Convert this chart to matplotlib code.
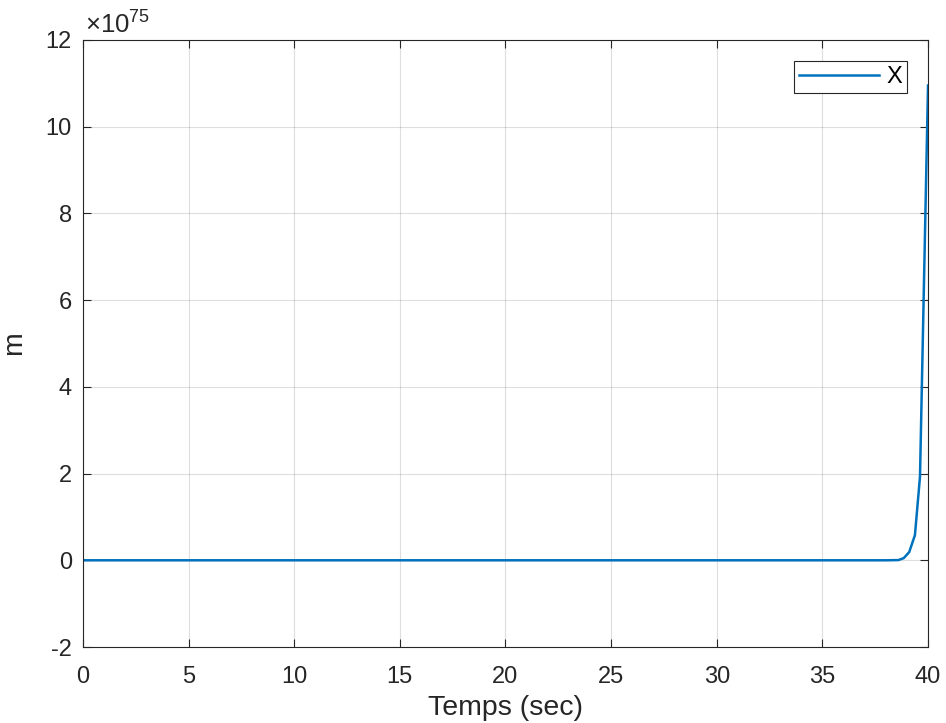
import matplotlib.pyplot as plt
from matplotlib.ticker import MultipleLocator, FuncFormatter
import numpy as np

# trajectoire x(t), diverge en fin de simulation
t = [0, 10, 20, 30, 38.0, 38.6, 38.85, 39.11, 39.38, 39.62, 40.0]
x = [0, 0, 0, 0, 0.0, 0.005, 0.05, 0.19, 0.58, 1.93, 10.95]
scale = 1e75
x = np.array(x) * scale

plt.rcParams['font.family'] = ['Liberation Sans', 'DejaVu Sans']
plt.rcParams['font.size'] = 17
plt.rcParams['axes.unicode_minus'] = False
plt.rcParams['mathtext.fontset'] = 'custom'
plt.rcParams['mathtext.rm'] = 'Liberation Sans'

fig = plt.figure(figsize=(9.46, 7.23), dpi=100)
ax = fig.add_axes([0.0877, 0.1051, 0.8933, 0.8396])

ax.plot(t, x, color='#0072BD', lw=1.8, label='X')

ax.set_xlim(0, 40)
ax.set_ylim(-2 * scale, 12 * scale)
ax.xaxis.set_major_locator(MultipleLocator(5))
ax.yaxis.set_major_locator(MultipleLocator(2 * scale))
ax.yaxis.set_major_formatter(FuncFormatter(lambda v, p: '%g' % round(v / scale)))
ax.text(0.002, 1.0115, '×10$^{\\mathregular{75}}$', transform=ax.transAxes,
        ha='left', va='baseline', color='#262626', fontsize=18.5)

ax.grid(True, color='#262626', alpha=0.15, lw=0.8)
ax.tick_params(direction='in', top=True, right=True, length=6,
               colors='#262626', labelcolor='#262626', width=0.8)
ax.tick_params(axis='x', pad=14)
ax.tick_params(axis='y', pad=8)
for s in ax.spines.values():
    s.set_color('#262626')
    s.set_linewidth(0.8)

ax.set_xlabel('Temps (sec)', color='#262626', fontsize=20.5, labelpad=5)
ax.set_ylabel('m', color='#262626', fontsize=20.5)
ax.yaxis.set_label_coords(-0.066, 0.5)

leg = ax.legend(loc='upper right', fancybox=False, framealpha=1,
                edgecolor='#262626', fontsize=17, handlelength=3.4,
                handletextpad=0.3, borderpad=0.2, borderaxespad=0.9)
leg.get_frame().set_linewidth(0.8)

fig.savefig('out.png', dpi=100)
